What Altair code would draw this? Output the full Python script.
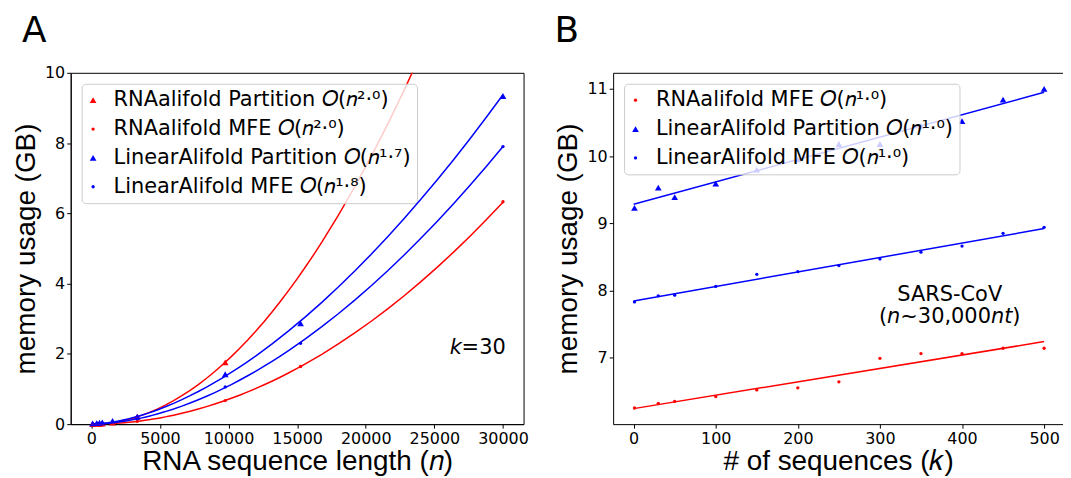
import altair as alt
import pandas as pd

# ---------------- Panel A: memory vs RNA sequence length (k=30) ----------------
n_len = [100, 400, 600, 800, 1550, 3350, 9760, 15250, 30000]
rna_part_A = [0.004, 0.006, 0.009, 0.014, 0.045, 0.21, 1.76]          # first 7 lengths
rna_mfe_A = [0.002, 0.003, 0.004, 0.006, 0.018, 0.08, 0.67, 1.64, 6.33]
lin_part_A = [0.02, 0.03, 0.04, 0.05, 0.09, 0.215, 1.42, 2.87, 9.34]
lin_mfe_A = [0.01, 0.015, 0.02, 0.025, 0.045, 0.15, 1.06, 2.30, 7.90]

labels_A = [
    "RNAalifold Partition 𝑂(𝑛²·⁰)",
    "RNAalifold MFE 𝑂(𝑛²·⁰)",
    "LinearAlifold Partition 𝑂(𝑛¹·⁷)",
    "LinearAlifold MFE 𝑂(𝑛¹·⁸)",
]
colors_A = ["#ff0000", "#ff0000", "#0000ff", "#0000ff"]
shapes_A = ["triangle-up", "circle", "triangle-up", "circle"]
sizes_A = [45, 11, 45, 11]

# ---------------- Panel B: memory vs number of sequences (SARS-CoV) ----------------
k_seq = [1, 30, 50, 100, 150, 200, 250, 300, 350, 400, 450, 500]
rna_mfe_B = [6.25, 6.32, 6.35, 6.42, 6.52, 6.55, 6.64, 6.99, 7.06, 7.06, 7.14, 7.14]
lin_part_B = [9.23, 9.53, 9.39, 9.59, 9.80, 9.95, 10.18, 10.18, 10.45, 10.52, 10.84, 11.00]
lin_mfe_B = [7.83, 7.92, 7.93, 8.06, 8.24, 8.28, 8.37, 8.47, 8.57, 8.66, 8.85, 8.94]

labels_B = [
    "RNAalifold MFE 𝑂(𝑛¹·⁰)",
    "LinearAlifold Partition 𝑂(𝑛¹·⁰)",
    "LinearAlifold MFE 𝑂(𝑛¹·⁰)",
]
colors_B = ["#ff0000", "#0000ff", "#0000ff"]
shapes_B = ["circle", "triangle-up", "circle"]
sizes_B = [11, 45, 11]

# ---------------- tables ----------------
rows_A = []
for lab, vals in zip(labels_A, [rna_part_A, rna_mfe_A, lin_part_A, lin_mfe_A]):
    for n, v in zip(n_len, vals):
        rows_A.append({"n": n, "mem": v, "series": lab})
dfA = pd.DataFrame(rows_A)

rows_B = []
for lab, vals in zip(labels_B, [rna_mfe_B, lin_part_B, lin_mfe_B]):
    for k, v in zip(k_seq, vals):
        rows_B.append({"k": k, "mem": v, "series": lab})
dfB = pd.DataFrame(rows_B)

LABEL_FONT = "DejaVu Sans"
TITLE_FONT = "Liberation Sans"


def legend_full():
    return alt.Legend(
        orient="top-left", offset=11, title=None,
        labelFont=LABEL_FONT, labelFontSize=21, labelColor="black", labelLimit=500,
        labelOffset=10, symbolOffset=-5, rowPadding=7, padding=6,
        fillColor="rgba(255,255,255,0.8)", strokeColor="#cccccc", cornerRadius=4,
        symbolStrokeWidth=0, symbolOpacity=1,
    )


# ---------------- Panel A chart ----------------
domA_x = [-1500, 31500]
domA_y = [0, 10]
sxA = alt.Scale(domain=domA_x, nice=False, zero=False)
syA = alt.Scale(domain=domA_y, nice=False)
xA = alt.X("n:Q", scale=sxA,
           axis=alt.Axis(values=[0, 5000, 10000, 15000, 20000, 25000, 30000], format="d",
                         title="RNA sequence length (𝑛)"))
yA = alt.Y("mem:Q", scale=syA,
           axis=alt.Axis(values=[0, 2, 4, 6, 8, 10], format="d", title="memory usage (GB)"))
colA = alt.Scale(domain=labels_A, range=colors_A)

linesA = alt.Chart(dfA).transform_filter("datum.n >= 3000").transform_regression(
    "n", "mem", groupby=["series"], method="pow", extent=[0, 30000]
).mark_line(clip=True, strokeWidth=1.5).encode(
    x=xA, y=yA, stroke=alt.Stroke("series:N", scale=colA, legend=None)
)
pointsA = alt.Chart(dfA).mark_point(filled=True, opacity=1, strokeWidth=0).encode(
    x=xA, y=yA,
    color=alt.Color("series:N", scale=colA, legend=legend_full()),
    shape=alt.Shape("series:N", scale=alt.Scale(domain=labels_A, range=shapes_A), legend=None),
    size=alt.Size("series:N", scale=alt.Scale(type="ordinal", domain=labels_A, range=sizes_A),
                  legend=None),
)
annA = pd.DataFrame({"n": [30200], "mem": [2.0]})
kTextA = alt.Chart(annA).mark_text(align="right", baseline="alphabetic", font=LABEL_FONT,
                                   fontSize=21, color="black").encode(
    x="n:Q", y="mem:Q", text=alt.value("=30"))
kItalA = alt.Chart(annA).mark_text(align="right", baseline="alphabetic", font=LABEL_FONT,
                                   fontSize=21, fontStyle="italic", dx=-44, color="black").encode(
    x="n:Q", y="mem:Q", text=alt.value("k"))
# panel letter anchored at the top-left corner of the plot area
letA = pd.DataFrame({"n": [domA_x[0]], "mem": [domA_y[1]], "t": ["A"]})
letterA = alt.Chart(letA).mark_text(align="left", baseline="alphabetic", font=LABEL_FONT,
                                    fontSize=36, dx=-49, dy=-31, color="black").encode(
    x="n:Q", y="mem:Q", text="t:N")

chartA = alt.layer(pointsA, linesA, kTextA, kItalA, letterA).properties(width=455, height=353)

# ---------------- Panel B chart ----------------
domB_x = [-25, 523]
domB_y = [6.01, 11.24]
sxB = alt.Scale(domain=domB_x, nice=False, zero=False)
syB = alt.Scale(domain=domB_y, nice=False, zero=False)
xB = alt.X("k:Q", scale=sxB,
           axis=alt.Axis(values=[0, 100, 200, 300, 400, 500], title="# of sequences (𝑘)"))
xBn = alt.X("k:Q", scale=sxB, axis=None)
yB = alt.Y("mem:Q", scale=syB,
           axis=alt.Axis(values=[7, 8, 9, 10, 11], format="d", title="memory usage (GB)"))
colB = alt.Scale(domain=labels_B, range=colors_B)

linesB = alt.Chart(dfB).transform_regression(
    "k", "mem", groupby=["series"], method="linear", extent=[0, 500]
).mark_line(clip=True, strokeWidth=1.5).encode(
    x=xBn, y=yB, stroke=alt.Stroke("series:N", scale=colB, legend=None)
)
pointsB = alt.Chart(dfB).mark_point(filled=True, opacity=1, strokeWidth=0).encode(
    x=xB, y=yB,
    color=alt.Color("series:N", scale=colB, legend=legend_full()),
    shape=alt.Shape("series:N", scale=alt.Scale(domain=labels_B, range=shapes_B), legend=None),
    size=alt.Size("series:N", scale=alt.Scale(type="ordinal", domain=labels_B, range=sizes_B),
                  legend=None),
)
# top spine only (the right edge of panel B is cut off in the original figure)
topB = alt.Chart(dfB).mark_point(opacity=0).encode(
    x=alt.X("k:Q", scale=sxB,
            axis=alt.Axis(orient="top", labels=False, ticks=False, title=None, domainColor="black")),
    y=yB,
)

annB1 = pd.DataFrame({"k": [385], "mem": [7.84], "t": ["SARS-CoV"]})
sarsB = alt.Chart(annB1).mark_text(align="center", baseline="alphabetic", font=LABEL_FONT,
                                   fontSize=21, color="black").encode(x=xBn, y=yB, text="t:N")

annB2 = pd.DataFrame({"k": [385], "mem": [7.51]})
# pieces of "(n~30,000nt)": (text, italic, align, dx)
pieces = [("(", False, "right", -62.9), ("n", True, "right", -49.6), ("~30,000", False, "center", -4.1),
          ("nt", True, "left", 41.4), (")", False, "left", 62.9)]
pieceCharts = []
for txt, ital, al, dx in pieces:
    pieceCharts.append(
        alt.Chart(annB2).mark_text(align=al, baseline="alphabetic", font=LABEL_FONT, fontSize=21,
                                   fontStyle="italic" if ital else "normal", dx=dx, color="black").encode(
            x=xBn, y=yB, text=alt.value(txt))
    )
letB = pd.DataFrame({"k": [domB_x[0]], "mem": [domB_y[1]], "t": ["B"]})
letterB = alt.Chart(letB).mark_text(align="left", baseline="alphabetic", font=LABEL_FONT,
                                    fontSize=36, dx=-59, dy=-31, color="black").encode(
    x=xBn, y=yB, text="t:N")

chartB = alt.layer(pointsB, topB, linesB, sarsB, *pieceCharts, letterB).resolve_axis(
    x="independent"
).properties(width=452, height=353, view=alt.ViewBackground(stroke=None))

chart = alt.hconcat(chartA, chartB, spacing=25).resolve_scale(
    color="independent", shape="independent", size="independent", stroke="independent"
).resolve_legend(color="independent", shape="independent", size="independent").configure_view(
    stroke="black", strokeWidth=1
).configure_axis(
    grid=False, labelFont=LABEL_FONT, labelFontSize=16, labelColor="black",
    tickColor="black", tickSize=4, domainColor="black", domainWidth=1,
    titleFont=TITLE_FONT, titleFontSize=28, titleFontWeight="normal", titleColor="black",
).configure_axisY(titlePadding=4).configure_axisX(titlePadding=2).properties(
    background="white", padding={"left": 4, "top": 3, "right": 0, "bottom": 0}
)

chart.save("out.html", embed_options={"renderer": "svg", "actions": False})
